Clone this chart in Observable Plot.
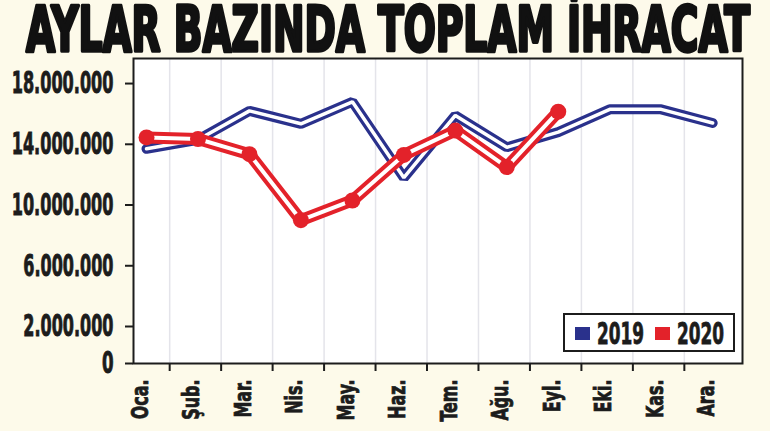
<!DOCTYPE html>
<html><head><meta charset="utf-8">
<script src="https://cdn.jsdelivr.net/npm/d3@7"></script>
<script src="https://cdn.jsdelivr.net/npm/@observablehq/plot@0.6"></script>
<style>
html,body{margin:0;padding:0;background:#fdfaea;}
#wrap{position:relative;width:770px;height:431px;overflow:hidden;background:#fdfaea;}
#title,#chart svg{display:block}
#legend{position:absolute;left:563px;top:313px;width:168px;height:35px;border:2px solid #1c1c1c;background:#fff;}
#legend svg{display:block}
</style></head><body>
<div id="wrap">
<svg id="title" width="770" height="56"><text x="26" y="51" textLength="724" lengthAdjust="spacingAndGlyphs" font-family="'Liberation Sans Narrow','DejaVu Sans Condensed',sans-serif" font-weight="bold" font-size="63" fill="#111" stroke="#111" stroke-width="3.5" stroke-linejoin="round">AYLAR BAZINDA TOPLAM İHRACAT</text></svg>
<div id="chart"></div>
<div id="legend"></div>
</div>
<script>
const FONT = "'Liberation Sans Narrow','DejaVu Sans Condensed',sans-serif";
const months = ["Oca.","Şub.","Mar.","Nis.","May.","Haz.","Tem.","Ağu.","Eyl.","Eki.","Kas.","Ara."];
const exports2019 = [13700000,14300000,16200000,15350000,16800000,11800000,15900000,13800000,14800000,16300000,16300000,15400000];
const exports2020 = [14450000,14350000,13350000,9000000,10300000,13300000,14900000,12500000,16150000];
const yTicks = [0,2000000,6000000,10000000,14000000,18000000];
const seriesNames = ["2019","2020"];
const seriesColors = ["#2a318c","#e3222a"];

const rows2019 = exports2019.map((v,i)=>({i, month: months[i], v}));
const rows2020 = exports2020.map((v,i)=>({i, month: months[i], v}));
const monthIdx = months.map((m,i)=>i);
const gridPos = months.slice(0,11).map((m,i)=>i+0.45);
const fmt = d => d3.format(",")(d).replace(/,/g,".");

const chart = Plot.plot({
  width:770, height:375,
  marginTop:2, marginBottom:68, marginLeft:133, marginRight:28,
  style:{background:"transparent", overflow:"visible"},
  x:{type:"linear", domain:[-0.253, 11.58]},
  y:{type:"linear", domain:[0,2000000,19650000], range:[307,270,2]},
  marks:[
    Plot.frame({fill:"white", stroke:"none"}),
    Plot.ruleX(gridPos, {stroke:"#e4e4ea", strokeWidth:1.5}),
    Plot.line(rows2019, {x:"i", y:"v", stroke:seriesColors[0], strokeWidth:10, strokeLinejoin:"miter", strokeLinecap:"round"}),
    Plot.line(rows2019, {x:"i", y:"v", stroke:"white", strokeWidth:3.5, strokeLinejoin:"miter", strokeLinecap:"round"}),
    Plot.line(rows2020, {x:"i", y:"v", stroke:seriesColors[1], strokeWidth:12, strokeLinejoin:"round", strokeLinecap:"round"}),
    Plot.line(rows2020, {x:"i", y:"v", stroke:"white", strokeWidth:4, strokeLinejoin:"round", strokeLinecap:"round"}),
    Plot.dot(rows2020, {x:"i", y:"v", r:8, fill:seriesColors[1]}),
    Plot.frame({stroke:"#1c1c1c", strokeWidth:2}),
    Plot.axisY(yTicks, {tickSize:8, tickPadding:12, tickFormat:fmt, fontSize:31, fontWeight:"bold", fontFamily:FONT, color:"#1c1c1c", strokeWidth:2, label:null}),
    Plot.axisX(gridPos, {tickSize:8, tickFormat:()=>"", color:"#1c1c1c", strokeWidth:2, label:null}),
    Plot.axisX(monthIdx, {tickSize:0, tickPadding:16, tickFormat:i=>months[i], tickRotate:-90, fontSize:23, fontWeight:"bold", fontFamily:FONT, color:"#1c1c1c", dx:-6, label:null})
  ]
});
document.getElementById("chart").appendChild(chart);
// condense the tick labels like the reference's condensed face
chart.querySelectorAll('g[aria-label="y-axis tick label"] text').forEach(t=>{
  const s = t.textContent;
  const digits = s.replace(/\./g,"").length, dots = s.length - digits;
  t.setAttribute("textLength", (digits*11.6 + dots*4.5).toFixed(1));
  t.setAttribute("lengthAdjust","spacingAndGlyphs");
  t.setAttribute("stroke","#1c1c1c"); t.setAttribute("stroke-width","0.9");
});
chart.querySelectorAll('g[aria-label="x-axis tick label"] text').forEach(t=>{
  const len = t.getComputedTextLength();
  if (!len) return;
  t.setAttribute("textLength", (len*0.77).toFixed(1));
  t.setAttribute("lengthAdjust","spacingAndGlyphs");
  t.setAttribute("stroke","#1c1c1c"); t.setAttribute("stroke-width","0.8");
});

// legend
const lg = d3.select("#legend").append("svg").attr("width",168).attr("height",35);
const lx = [[10,32],[90,112]];
seriesNames.forEach((name,k)=>{
  lg.append("rect").attr("x",lx[k][0]).attr("y",12).attr("width",15).attr("height",13).attr("fill",seriesColors[k]);
  lg.append("text").attr("x",lx[k][1]).attr("y",29).attr("font-family",FONT).attr("font-weight","bold")
    .attr("font-size",30).attr("fill","#1c1c1c").attr("stroke","#1c1c1c").attr("stroke-width",0.8)
    .attr("textLength",47).attr("lengthAdjust","spacingAndGlyphs").text(name);
});
</script>
</body></html>
